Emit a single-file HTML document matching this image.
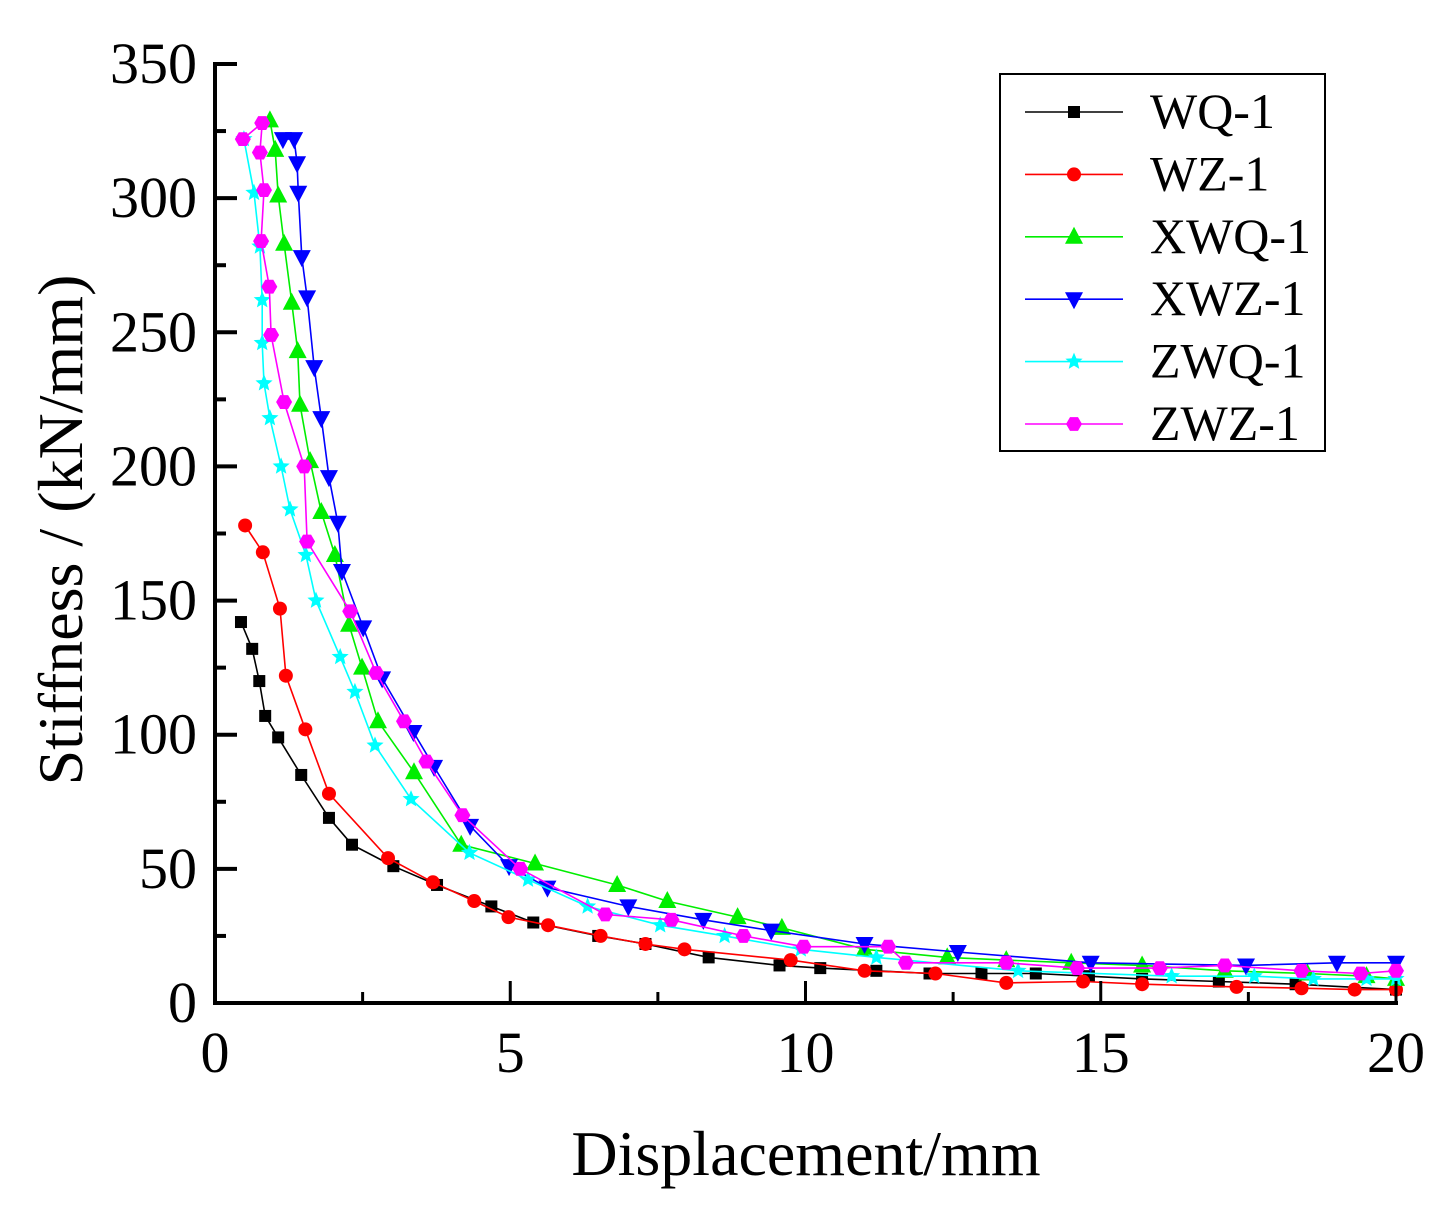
<!DOCTYPE html>
<html><head><meta charset="utf-8"><style>
body{margin:0;background:#fff}
svg{display:block;font-family:"Liberation Serif",serif}
</style></head><body>
<svg id="chart" width="1444" height="1226" viewBox="0 0 1444 1226" xmlns="http://www.w3.org/2000/svg">
<g id="plot"></g>
<g id="axes"></g>
<g id="legend"></g>
</svg>
<script>
const xTicks=[0,5,10,15,20];
const yTicks=[0,50,100,150,200,250,300,350];
const seriesNames=["WQ-1","WZ-1","XWQ-1","XWZ-1","ZWQ-1","ZWZ-1"];
const seriesColors=["#000000","#ff0000","#00ee00","#0000ff","#00ffff","#ff00ff"];
const seriesMarkers=["square","circle","triUp","triDown","star","hex"];
const wqX=[0.44,0.63,0.75,0.85,1.07,1.46,1.93,2.32,3.02,3.76,4.68,5.39,6.49,7.29,8.36,9.56,10.25,11.2,12.1,12.98,13.9,14.8,15.7,17.0,18.3,20];
const wqY=[142,132,120,107,99,85,69,59,51,44,36,30,25,22,17,14,13,12,11,11,11,10,9,8,7,5];
const wzX=[0.51,0.81,1.1,1.2,1.53,1.93,2.93,3.69,4.39,4.97,5.64,6.53,7.29,7.95,9.75,11.0,12.2,13.4,14.7,15.7,17.3,18.4,19.3,20];
const wzY=[178,168,147,122,102,78,54,45,38,32,29,25,22,20,16,12,11,7.5,8,7,6,5.5,5,5];
const xwqX=[0.93,1.02,1.07,1.17,1.3,1.4,1.44,1.61,1.8,2.03,2.27,2.49,2.76,3.37,4.17,5.42,6.81,7.66,8.85,9.6,11.0,12.4,13.4,14.5,15.7,17.1,18.5,19.5,20];
const xwqY=[329,318,301,283,261,243,223,202,183,167,141,125,105,86,59,52,44,38,32,28,20,17,16,15,14,12,11,10,9];
const xwzX=[1.15,1.34,1.39,1.41,1.47,1.56,1.68,1.8,1.93,2.08,2.15,2.51,2.83,3.36,3.71,4.32,4.98,5.63,7.0,8.27,9.42,11.0,12.58,14.83,17.46,19.0,20];
const xwzY=[322,322,313,302,278,263,237,218,196,179,161,140,121,101,88,66,51,43,36,31,27,22,19,15,14,15,15];
const zwqX=[0.49,0.66,0.76,0.8,0.8,0.83,0.93,1.12,1.27,1.54,1.71,2.12,2.37,2.71,3.32,4.31,5.3,6.31,7.54,8.63,9.92,11.2,13.6,16.2,17.6,18.6,19.5,20];
const zwqY=[322,302,282,262,246,231,218,200,184,167,150,129,116,96,76,56,46,36,29,25,20,17,12,10,10,9,9,9];
const zwzX=[0.47,0.8,0.76,0.83,0.78,0.92,0.95,1.17,1.51,1.56,2.29,2.73,3.2,3.58,4.19,5.17,6.61,7.73,8.95,9.97,11.4,11.7,13.4,14.6,16.0,17.1,18.4,19.4,20];
const zwzY=[322,328,317,303,284,267,249,224,200,172,146,123,105,90,70,50,33,31,25,21,21,15,15,13,13,14,12,11,12];
const allX=[wqX,wzX,xwqX,xwzX,zwqX,zwzX];
const allY=[wqY,wzY,xwqY,xwzY,zwqY,zwzY];

const X0=215,X1=1396,Y0=1003,Y1=64;
const sx=v=>X0+(v-0)/(20-0)*(X1-X0);
const sy=v=>Y0-(v-0)/(350-0)*(Y0-Y1);
const NS="http://www.w3.org/2000/svg";
function mk(tag,attrs,parent){const e=document.createElementNS(NS,tag);for(const k in attrs)e.setAttribute(k,attrs[k]);parent.appendChild(e);return e;}
function marker(type,x,y,c,parent){
  let e;
  if(type==="square")e=mk("rect",{x:x-6,y:y-6,width:12,height:12,fill:c},parent);
  else if(type==="circle")e=mk("circle",{cx:x,cy:y,r:7,fill:c},parent);
  else if(type==="triUp")e=mk("polygon",{points:`${x},${y-10} ${x-9},${y+7} ${x+9},${y+7}`,fill:c},parent);
  else if(type==="triDown")e=mk("polygon",{points:`${x},${y+10} ${x-9},${y-7} ${x+9},${y-7}`,fill:c},parent);
  else if(type==="star"){let p=[];for(let i=0;i<10;i++){const r=i%2?4:9;const a=-Math.PI/2+i*Math.PI/5;p.push((x+r*Math.cos(a)).toFixed(1)+","+(y+r*Math.sin(a)).toFixed(1));}e=mk("polygon",{points:p.join(" "),fill:c},parent);}
  else {let p=[];for(let i=0;i<6;i++){const a=i*Math.PI/3;p.push((x+8*Math.cos(a)).toFixed(1)+","+(y+8*Math.sin(a)).toFixed(1));}e=mk("polygon",{points:p.join(" "),fill:c},parent);}
  return e;
}
const plot=document.getElementById("plot");
seriesNames.forEach((n,i)=>{
  const g=mk("g",{},plot);
  
  
  const pts=allX[i].map((x,j)=>sx(x).toFixed(1)+","+sy(allY[i][j]).toFixed(1)).join(" ");
  const l=mk("polyline",{points:pts,fill:"none",stroke:seriesColors[i],"stroke-width":1.6},g);
  
  
  allX[i].forEach((x,j)=>{
    const m=marker(seriesMarkers[i],sx(x),sy(allY[i][j]),seriesColors[i],g);
    
    
  });
});
const axes=document.getElementById("axes");
mk("line",{x1:X0,y1:Y1-2,x2:X0,y2:Y0+2,stroke:"#000","stroke-width":4},axes);
mk("line",{x1:X0-2,y1:Y0,x2:X1+2,y2:Y0,stroke:"#000","stroke-width":4},axes);
for(let v=0;v<=350;v+=25){const major=v%50===0;mk("line",{x1:X0,x2:X0+(major?22:11),y1:sy(v),y2:sy(v),stroke:"#000","stroke-width":4},axes);}
for(let v=0;v<=20;v+=2.5){const major=v%5===0;mk("line",{x1:sx(v),x2:sx(v),y1:Y0,y2:Y0-(major?22:11),stroke:"#000","stroke-width":3},axes);}
yTicks.forEach(v=>{const t=mk("text",{x:X0-18,y:sy(v)+19,"text-anchor":"end","font-size":58},axes);t.textContent=v;
  
  });
xTicks.forEach(v=>{const t=mk("text",{x:sx(v),y:1072,"text-anchor":"middle","font-size":58},axes);t.textContent=v;
  
  });
const xt=mk("text",{x:806,y:1175,"text-anchor":"middle","font-size":64},axes);xt.textContent="Displacement/mm";


const yt=mk("text",{x:0,y:0,"text-anchor":"middle","font-size":64,transform:"translate(82,530) rotate(-90)"},axes);yt.textContent="Stiffness / (kN/mm)";


const lg=document.getElementById("legend");
mk("rect",{x:1000,y:74,width:325,height:377,fill:"#fff",stroke:"#000","stroke-width":2},lg);
seriesNames.forEach((n,i)=>{
  const y=112+i*62.4;
  const g=mk("g",{},lg);
  
  
  mk("line",{x1:1025,x2:1123,y1:y,y2:y,stroke:seriesColors[i],"stroke-width":1.6},g);
  marker(seriesMarkers[i],1074,y,seriesColors[i],g);
  const t=mk("text",{x:1150,y:y+16,"font-size":50},g);t.textContent=n;
});
</script>
</body></html>
